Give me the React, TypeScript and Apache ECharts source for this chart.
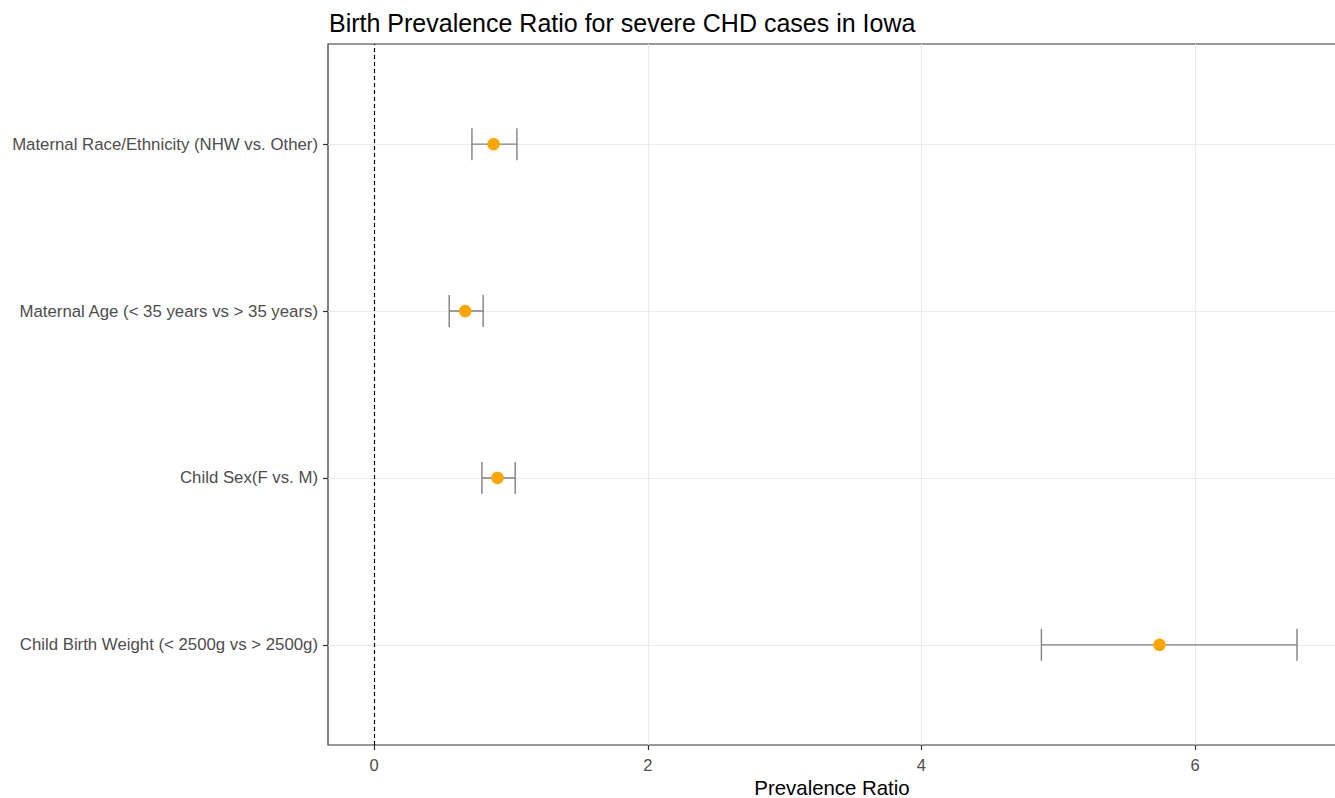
import React, { useEffect, useRef } from "react";
import * as echarts from "echarts";

// Bottom-to-top order (ggplot draws first factor level at the bottom)
const categories = [
  "Child Birth Weight (< 2500g vs > 2500g)",
  "Child Sex(F vs. M)",
  "Maternal Age (< 35 years vs > 35 years)",
  "Maternal Race/Ethnicity (NHW vs. Other)",
];
const estimates = [5.74, 0.902, 0.666, 0.873];
const lowerCI = [4.877, 0.788, 0.549, 0.715];
const upperCI = [6.745, 1.031, 0.797, 1.044];
const xTicks = [0, 2, 4, 6];

const FONT = "Liberation Sans, Arial, sans-serif";

export default function App() {
  const ref = useRef<HTMLDivElement>(null);
  useEffect(() => {
    document.body.style.margin = "0";
    const chart = echarts.init(ref.current!, null, { renderer: "svg" });
    const idx = categories.map((_, i) => i);
    chart.setOption({
      animation: false,
      backgroundColor: "#ffffff",
      title: {
        text: "Birth Prevalence Ratio for severe CHD cases in Iowa",
        left: 324,
        top: 5,
        textStyle: { fontFamily: FONT, fontSize: 25, fontWeight: "normal", color: "#000000" },
      },
      grid: {
        left: 328,
        top: 44,
        right: -1,
        height: 701,
        outerBoundsMode: "none",
        containLabel: false,
        show: true,
        borderColor: "#333333",
        borderWidth: 1.2,
        backgroundColor: "transparent",
      },
      xAxis: {
        type: "value",
        min: -0.337,
        max: 7.03,
        name: "Prevalence Ratio",
        nameLocation: "middle",
        nameGap: 32,
        nameTextStyle: { fontFamily: FONT, fontSize: 20.4, color: "#000000" },
        axisLine: { show: false, onZero: false },
        axisTick: { show: true, customValues: xTicks, length: 5, lineStyle: { color: "#333333", width: 1.2 } },
        axisLabel: {
          customValues: xTicks,
          fontFamily: FONT,
          fontSize: 16.5,
          color: "#4d4d4d",
          margin: 11,
        },
        splitLine: { show: true, lineStyle: { color: "#ebebeb", width: 1 } },
      },
      yAxis: {
        type: "value",
        min: -0.6,
        max: 3.6,
        axisLine: { show: false, onZero: false },
        axisTick: { show: true, customValues: idx, length: 5, lineStyle: { color: "#333333", width: 1.2 } },
        axisLabel: {
          customValues: idx,
          formatter: (v: number) => categories[Math.round(v)] ?? "",
          fontFamily: FONT,
          fontSize: 16.8,
          color: "#4d4d4d",
          margin: 10,
        },
        splitLine: { show: true, lineStyle: { color: "#ebebeb", width: 1 } },
      },
      series: [
        {
          type: "custom",
          data: idx.map((i) => [lowerCI[i], upperCI[i], i]),
          encode: { x: [0, 1], y: 2 },
          renderItem: (params: any, api: any) => {
            const lo = api.coord([api.value(0), api.value(2)]);
            const hi = api.coord([api.value(1), api.value(2)]);
            const h = 16;
            const style = { stroke: "#808080", lineWidth: 1.4 };
            return {
              type: "group",
              children: [
                { type: "line", shape: { x1: lo[0], y1: lo[1], x2: hi[0], y2: hi[1] }, style },
                { type: "line", shape: { x1: lo[0], y1: lo[1] - h, x2: lo[0], y2: lo[1] + h }, style },
                { type: "line", shape: { x1: hi[0], y1: hi[1] - h, x2: hi[0], y2: hi[1] + h }, style },
              ],
            };
          },
          z: 2,
        },
        {
          type: "scatter",
          data: idx.map((i) => [estimates[i], i]),
          symbol: "circle",
          symbolSize: 12.5,
          itemStyle: { color: "#FFA500", opacity: 1 },
          z: 3,
          markLine: {
            silent: true,
            symbol: "none",
            label: { show: false },
            lineStyle: { color: "#000000", type: [4, 3], width: 1.2 },
            data: [{ xAxis: 0 }],
          },
        },
      ],
    });
    return () => chart.dispose();
  }, []);
  return <div ref={ref} style={{ width: 1335, height: 798 }} />;
}
